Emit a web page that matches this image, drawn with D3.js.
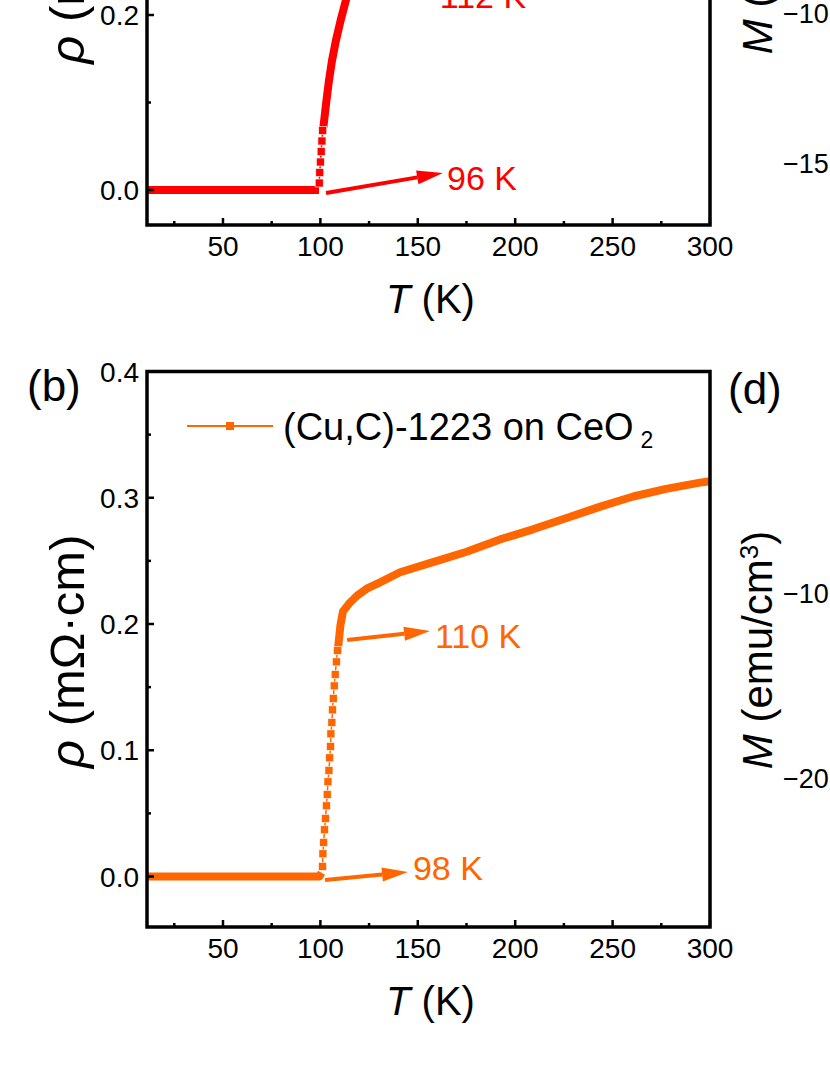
<!DOCTYPE html>
<html><head><meta charset="utf-8">
<script src="https://cdn.jsdelivr.net/npm/d3@7"></script>
<style>
body{margin:0;background:#fff}
svg{display:block}
text{font-family:"Liberation Sans",Arial,Helvetica,sans-serif;fill:#000}
</style>
</head><body>
<svg id="chart" width="830" height="1075"></svg>
<script>
// ---------- DATA ----------
// Panel (a): red film
const tempA_low  = [11, 30, 50, 70, 90, 99.3];
const rhoA_low   = [0, 0, 0, 0, 0, 0];
const tempA_jump = [99.4, 99.7, 100.0, 100.4, 100.8, 101.2];
const rhoA_jump  = [0.008, 0.020, 0.032, 0.044, 0.056, 0.068];
const tempA_high = [101.5, 103.1, 104.4, 105.9, 107.9, 110.3, 113.0, 115.6, 120, 128, 140, 170, 210, 250, 300];
const rhoA_high  = [0.071, 0.102, 0.125, 0.147, 0.170, 0.193, 0.216, 0.238, 0.265, 0.290, 0.310, 0.340, 0.370, 0.400, 0.430];

// Panel (b): (Cu,C)-1223 on CeO2
const tempB_low  = [11, 30, 50, 70, 90, 99.5, 100.6];
const rhoB_low   = [0, 0, 0, 0, 0, 0, 0.003];
const tempB_jump = [101.1, 101.3, 101.7, 102.1, 102.6, 103.1, 103.5, 103.9, 104.4, 104.8, 105.2, 105.4, 105.9, 106.2, 106.6, 107.1, 107.6, 108.2, 108.8];
const rhoB_jump  = [0.008, 0.018, 0.027, 0.037, 0.046, 0.056, 0.065, 0.075, 0.084, 0.094, 0.103, 0.113, 0.122, 0.132, 0.141, 0.151, 0.160, 0.170, 0.179];
const tempB_high = [108.8, 110.3, 111.6, 115.2, 119.3, 123.8, 130.6, 140.9, 157.8, 174.7, 192.2, 209.1, 226.4, 243.7, 260.6, 277.4, 294.9, 300];
const rhoB_high  = [0.177, 0.199, 0.210, 0.217, 0.223, 0.228, 0.233, 0.241, 0.249, 0.257, 0.267, 0.275, 0.284, 0.293, 0.301, 0.307, 0.312, 0.313];

// Axes
const xMajor = [50, 100, 150, 200, 250, 300];
const xMinor = [25, 75, 125, 175, 225, 275];
const yMajorA = [0.0, 0.2, 0.4];
const yMinorA = [0.1, 0.3, 0.5];
const yMajorB = [0.0, 0.1, 0.2, 0.3, 0.4];
const yMinorB = [0.05, 0.15, 0.25, 0.35];

// Annotations (data coords: [T, rho])
const annA = [
  {label: "96 K",  from: [102.9, -0.0034], to: [162.9, 0.0194], text: [165.0, 0.000]},
  {label: "112 K", from: [116.2, 0.224],   to: [159.3, 0.229],  text: [161.3, 0.208]}
];
const annB = [
  {label: "110 K", from: [113.7, 0.1873], to: [156.3, 0.1945], text: [158.8, 0.181]},
  {label: "98 K",  from: [102.4, -0.0028], to: [145.0, 0.0036], text: [147.5, -0.003]}
];
const legendLabel = "(Cu,C)-1223 on CeO";
const legendSub = "2";

// Right-hand (cut-off) panels (c),(d) tick labels
const tickC = [-10, -15];
const tickD = [-10, -20];

// ---------- DRAW ----------
const svg = d3.select("#chart");
const RED = "#ff0000", ORANGE = "#ff6600";
const L = 147, R = 710;

const x = d3.scaleLinear().domain([11, 300]).range([L, R]);
const yA = d3.scaleLinear().domain([-0.04, 0.6]).range([225, -335]);
const yB = d3.scaleLinear().domain([-0.04, 0.4]).range([927, 371.5]);

function zip(t, r) { return t.map((d, i) => [d, r[i]]); }

function drawPanel(y, yMaj, yMin, seriesLow, seriesJump, seriesHigh, color, ann) {
  const bottom = y.range()[0], top = y.range()[1];
  const g = svg.append("g");
  const line = d3.line().x(d => x(d[0])).y(d => y(d[1]));

  // thick (dense) segments
  [seriesLow, seriesHigh].forEach(s => {
    g.append("path").attr("d", line(s)).attr("fill", "none")
      .attr("stroke", color).attr("stroke-width", 8).attr("stroke-linejoin", "round");
  });
  // sparse transition: thin line + square markers
  g.append("path").attr("d", line(seriesJump)).attr("fill", "none")
    .attr("stroke", color).attr("stroke-width", 1.5);
  g.selectAll("rect.sq").data(seriesJump).enter().append("rect")
    .attr("x", d => x(d[0]) - 4).attr("y", d => y(d[1]) - 4)
    .attr("width", 8).attr("height", 8).attr("fill", color)
    .attr("stroke", "#fff").attr("stroke-width", 0.6);

  // frame
  g.append("rect").attr("x", L).attr("y", top).attr("width", R - L).attr("height", bottom - top)
    .attr("fill", "none").attr("stroke", "#000").attr("stroke-width", 3.5);

  // x ticks (inward)
  xMajor.forEach(t => g.append("line").attr("x1", x(t)).attr("x2", x(t))
    .attr("y1", bottom).attr("y2", bottom - 7).attr("stroke", "#000").attr("stroke-width", 2.5));
  xMinor.forEach(t => g.append("line").attr("x1", x(t)).attr("x2", x(t))
    .attr("y1", bottom).attr("y2", bottom - 4).attr("stroke", "#000").attr("stroke-width", 2.5));
  xMajor.forEach(t => g.append("text").attr("x", x(t)).attr("y", bottom + 31)
    .attr("text-anchor", "middle").attr("font-size", 28).text(t));

  // y ticks (inward)
  yMaj.forEach(v => g.append("line").attr("x1", L).attr("x2", L + 7)
    .attr("y1", y(v)).attr("y2", y(v)).attr("stroke", "#000").attr("stroke-width", 2.5));
  yMin.forEach(v => g.append("line").attr("x1", L).attr("x2", L + 4)
    .attr("y1", y(v)).attr("y2", y(v)).attr("stroke", "#000").attr("stroke-width", 2.5));
  yMaj.forEach(v => g.append("text").attr("x", L - 8).attr("y", y(v) + 10)
    .attr("text-anchor", "end").attr("font-size", 28).text(d3.format(".1f")(v)));

  // x title
  const xt = g.append("text").attr("x", (L + R) / 2 + 2).attr("y", bottom + 88)
    .attr("text-anchor", "middle").attr("font-size", 40);
  xt.append("tspan").attr("font-style", "italic").text("T");
  xt.append("tspan").text(" (K)");

  // y title
  const cy = (top + bottom) / 2 + 2;
  const yt = g.append("text").attr("transform", `translate(84,${cy}) rotate(-90)`)
    .attr("text-anchor", "middle").attr("font-size", 49);
  yt.append("tspan").attr("font-style", "italic").text("ρ");
  yt.append("tspan").text(" (mΩ·cm)");

  // annotations
  ann.forEach(a => {
    const x1 = x(a.from[0]), y1 = y(a.from[1]), x2 = x(a.to[0]), y2 = y(a.to[1]);
    const ang = Math.atan2(y2 - y1, x2 - x1), hl = 26, hw = 7;
    const bx = x2 - hl * Math.cos(ang), by = y2 - hl * Math.sin(ang);
    g.append("line").attr("x1", x1).attr("y1", y1).attr("x2", bx).attr("y2", by)
      .attr("stroke", color).attr("stroke-width", 4);
    g.append("polygon").attr("fill", color).attr("points", [
      [x2, y2],
      [bx + hw * Math.sin(ang), by - hw * Math.cos(ang)],
      [bx - hw * Math.sin(ang), by + hw * Math.cos(ang)]
    ].map(p => p.join(",")).join(" "));
    g.append("text").attr("x", x(a.text[0])).attr("y", y(a.text[1]))
      .attr("font-size", 34).style("fill", color).text(a.label);
  });
  return g;
}

drawPanel(yA, yMajorA, yMinorA, zip(tempA_low, rhoA_low), zip(tempA_jump, rhoA_jump), zip(tempA_high, rhoA_high), RED, annA);
drawPanel(yB, yMajorB, yMinorB, zip(tempB_low, rhoB_low), zip(tempB_jump, rhoB_jump), zip(tempB_high, rhoB_high), ORANGE, annB);

// panel label (b)
svg.append("text").attr("x", 27).attr("y", 401).attr("font-size", 44).text("(b)");

// legend in (b)
svg.append("line").attr("x1", 187).attr("x2", 273).attr("y1", 426).attr("y2", 426)
  .attr("stroke", ORANGE).attr("stroke-width", 2);
svg.append("rect").attr("x", 226).attr("y", 422).attr("width", 8).attr("height", 8).attr("fill", ORANGE);
const lt = svg.append("text").attr("x", 283).attr("y", 440).attr("font-size", 38);
lt.append("tspan").text(legendLabel);
lt.append("tspan").attr("dx", 7).attr("dy", 8).attr("font-size", 23).text(legendSub);

// Right panels (c),(d) — cut off at the right edge
const yC = d3.scaleLinear().domain([-10, -15]).range([14, 164]);
const yD = d3.scaleLinear().domain([-10, -20]).range([594, 779]);
const fmtM = v => "\u2212" + Math.abs(v);
tickC.forEach(v => svg.append("text").attr("x", 783).attr("y", yC(v) + 9).attr("font-size", 27).text(fmtM(v)));
tickD.forEach(v => svg.append("text").attr("x", 783).attr("y", yD(v) + 9).attr("font-size", 27).text(fmtM(v)));

function mLabel(cy) {
  const t = svg.append("text").attr("transform", `translate(772,${cy}) rotate(-90)`)
    .attr("text-anchor", "middle").attr("font-size", 42);
  t.append("tspan").attr("font-style", "italic").text("M");
  t.append("tspan").text(" (emu/cm");
  t.append("tspan").attr("dy", -14).attr("font-size", 26).text("3");
  t.append("tspan").attr("dy", 14).text(")");
}
mLabel(-65);
mLabel(650);
svg.append("text").attr("x", 728).attr("y", 404).attr("font-size", 44).text("(d)");
</script>
</body></html>
